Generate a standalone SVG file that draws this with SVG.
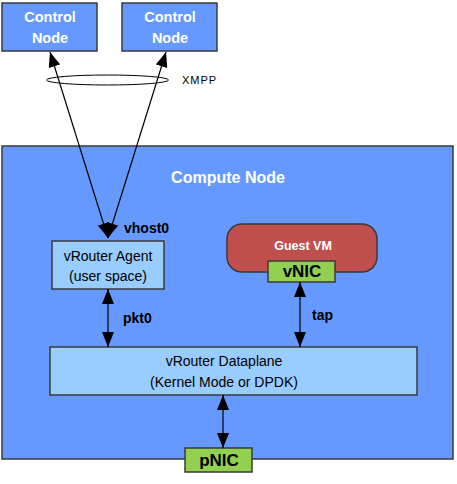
<svg xmlns="http://www.w3.org/2000/svg" width="457" height="484" viewBox="0 0 457 484">
<style>
.box{stroke:#3a3a3a;stroke-width:1.5}
.blue{fill:#6699FF}
.light{fill:#99CCFF}
.green{fill:#92D050}
.wb{font-family:"Liberation Sans",Arial,sans-serif;font-weight:bold;fill:#fff;text-anchor:middle}
.n{font-family:"Liberation Sans",Arial,sans-serif;fill:#000;text-anchor:middle;font-size:14px}
.b{font-family:"Liberation Sans",Arial,sans-serif;font-weight:bold;fill:#000}
.ln{stroke:#000;stroke-width:1.2;fill:none}
</style>
<defs>
<marker id="ah" viewBox="0 0 15 12" refX="15" refY="6" markerWidth="15" markerHeight="12" markerUnits="userSpaceOnUse" orient="auto-start-reverse">
<path d="M0,0 L15,6 L0,12 Z" fill="#000"/>
</marker>
</defs>
<g id="control1">
<rect class="box blue" x="2" y="3" width="95" height="48"/>
<text class="wb" x="50" y="22" font-size="14.5">Control</text>
<text class="wb" x="50" y="43" font-size="14.5">Node</text>
</g>
<g id="control2">
<rect class="box blue" x="122" y="3" width="95" height="48"/>
<text class="wb" x="170" y="22" font-size="14.5">Control</text>
<text class="wb" x="170" y="43" font-size="14.5">Node</text>
</g>
<g id="compute">
<rect class="box blue" x="2" y="146" width="451" height="313"/>
<text class="wb" x="228" y="183" font-size="16">Compute Node</text>
</g>
<g id="agent">
<rect class="box light" x="52" y="241" width="112" height="48"/>
<text class="n" x="108" y="261">vRouter Agent</text>
<text class="n" x="108" y="281">(user space)</text>
</g>
<g id="guestvm">
<rect class="box" fill="#C0504D" x="227" y="224" width="150" height="48" rx="15" ry="15"/>
<text class="wb" x="303" y="250" font-size="12.5">Guest VM</text>
</g>
<g id="vnic">
<rect class="box green" x="268" y="261" width="67" height="21"/>
<text class="b" x="302" y="277" font-size="17" text-anchor="middle">vNIC</text>
</g>
<g id="dataplane">
<rect class="box light" x="50" y="347" width="367" height="48"/>
<text class="n" x="224" y="366">vRouter Dataplane</text>
<text class="n" x="224" y="387">(Kernel Mode or DPDK)</text>
</g>
<g id="pnic">
<rect class="box green" x="185" y="448" width="67" height="24"/>
<text class="b" x="219" y="466" font-size="17" text-anchor="middle">pNIC</text>
</g>
<g id="connectors">
<line class="ln" x1="108" y1="238" x2="50" y2="52" marker-start="url(#ah)" marker-end="url(#ah)"/>
<line class="ln" x1="108" y1="238" x2="166" y2="52" marker-start="url(#ah)" marker-end="url(#ah)"/>
<ellipse cx="107.5" cy="80" rx="61" ry="5" fill="none" stroke="#000" stroke-width="1"/>
<line class="ln" x1="108" y1="289" x2="108" y2="347" marker-start="url(#ah)" marker-end="url(#ah)"/>
<line class="ln" x1="300" y1="282" x2="300" y2="347" marker-start="url(#ah)" marker-end="url(#ah)"/>
<line class="ln" x1="223" y1="395" x2="223" y2="448" marker-start="url(#ah)" marker-end="url(#ah)"/>
</g>
<g id="labels">
<text x="182" y="84" font-family="'Liberation Sans',Arial,sans-serif" font-size="11" letter-spacing="1" fill="#000">XMPP</text>
<text class="b" x="124" y="233" font-size="14">vhost0</text>
<text class="b" x="123" y="323" font-size="14">pkt0</text>
<text class="b" x="312" y="320" font-size="14">tap</text>
</g>
</svg>
